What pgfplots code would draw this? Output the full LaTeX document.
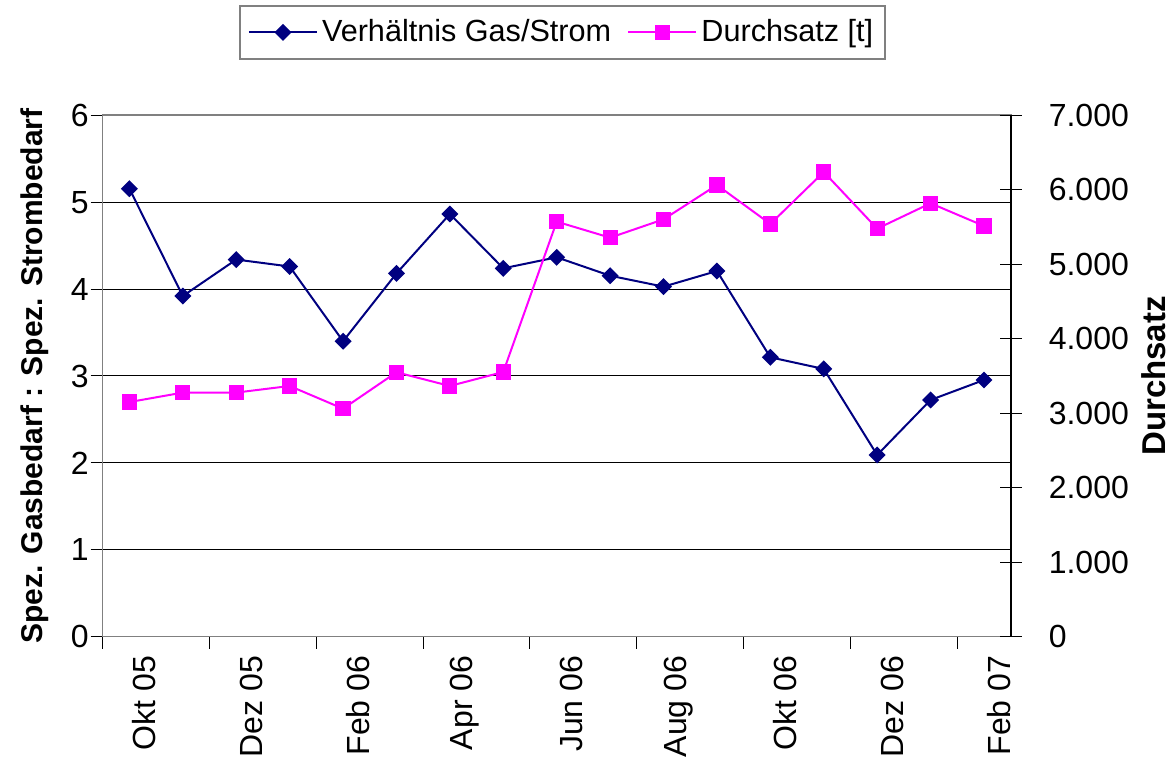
\documentclass[border=0pt]{standalone}
\usepackage{fontspec}
\setmainfont{Liberation Sans}
\setsansfont{Liberation Sans}
\usepackage{pgfplots}
\pgfplotsset{compat=1.18}
\definecolor{navyb}{RGB}{0,0,128}
\definecolor{magp}{RGB}{255,0,255}
\definecolor{framegray}{RGB}{128,128,128}
\newcommand{\lbl}{\fontsize{15}{18}\selectfont}
\newcommand{\tkl}{\fontsize{16}{19}\selectfont}
\begin{document}
\begin{tikzpicture}
\path[use as bounding box] (0,0) rectangle (586.5pt,384.5pt);
\begin{axis}[
  at={(51.35pt,66.15pt)}, anchor=south west,
  scale only axis, width=454pt, height=260.7pt,
  xmin=-0.5, xmax=16.5, ymin=0, ymax=6,
  xtick={0,2,...,16},
  xticklabels={Okt 05,Dez 05,Feb 06,Apr 06,Jun 06,Aug 06,Okt 06,Dez 06,Feb 07},
  minor xtick={-0.5,1.5,...,15.5},
  ytick={0,1,...,6},
  xtick pos=bottom, ytick pos=left,
  tick align=outside,
  major tick length=6pt, minor tick length=6pt,
  major x tick style={draw=none},
  minor x tick style={black, line width=0.5pt},
  major y tick style={black, line width=0.5pt},
  axis line style={framegray, line width=0.8pt},
  ymajorgrids, major grid style={black, line width=0.5pt},
  /pgf/number format/assume math mode=true,
  tick label style={font=\tkl},
  xticklabel style={rotate=90, anchor=east, yshift=-7.5pt},
  yticklabel style={xshift=2.5pt},
  ylabel={\bfseries Spez. Gasbedarf : Spez. Strombedarf},
  ylabel style={font=\lbl, at={(axis description cs:-0.0746,0.5)}, anchor=center},
  legend columns=2,
  legend style={at={(axis description cs:0.5064,1.159)}, anchor=center,
    draw=framegray, line width=0.8pt, fill=white, font=\fontsize{15.3}{18}\selectfont,
    inner xsep=4pt, inner ysep=5pt,
    /tikz/every even column/.append style={column sep=6pt}},
  legend image code/.code={\draw[mark repeat=2,mark phase=2,#1] plot coordinates {(0cm,0cm) (0.6cm,0cm) (1.2cm,0cm)};},
]
\addplot[navyb, line width=1pt, mark=square*, mark size=2.5pt,
  mark options={rotate=45, solid, fill=navyb, draw=navyb}] coordinates {
(0,5.155) (1,3.92) (2,4.34) (3,4.26) (4,3.40) (5,4.18) (6,4.864) (7,4.239)
(8,4.366) (9,4.154) (10,4.028) (11,4.208) (12,3.215) (13,3.081) (14,2.091)
(15,2.724) (16,2.954)};
\addlegendentry{Verhältnis Gas/Strom}
\addlegendimage{magp, line width=1pt, mark=square*, mark size=3.3pt, mark options={solid, fill=magp, draw=magp}}
\addlegendentry{Durchsatz [t]}
\end{axis}
\begin{axis}[
  at={(51.35pt,66.15pt)}, anchor=south west,
  scale only axis, width=454pt, height=260.7pt,
  xmin=-0.5, xmax=16.5, ymin=0, ymax=7000,
  axis x line=none, axis y line*=right,
  axis line style={black, line width=0.8pt, -},
  ytick={0,1000,...,7000},
  scaled y ticks=false,
  ytick align=center, major tick length=11pt,
  major y tick style={black, line width=0.5pt},
  /pgf/number format/assume math mode=true,
  /pgf/number format/1000 sep={.},
  tick label style={font=\tkl},
  yticklabel style={xshift=10pt},
  ylabel={\bfseries Durchsatz},
  ylabel style={font=\fontsize{16.5}{19}\selectfont, at={(axis description cs:1.157,0.5)}, anchor=center, rotate=0},
]
\addplot[magp, line width=1pt, mark=square*, mark size=3.3pt,
  mark options={solid, fill=magp, draw=magp}] coordinates {
(0,3150) (1,3277) (2,3277) (3,3366) (4,3061) (5,3550) (6,3366) (7,3554)
(8,5572) (9,5357) (10,5603) (11,6064) (12,5541) (13,6239) (14,5478)
(15,5819) (16,5514)};
\end{axis}
\end{tikzpicture}
\end{document}
